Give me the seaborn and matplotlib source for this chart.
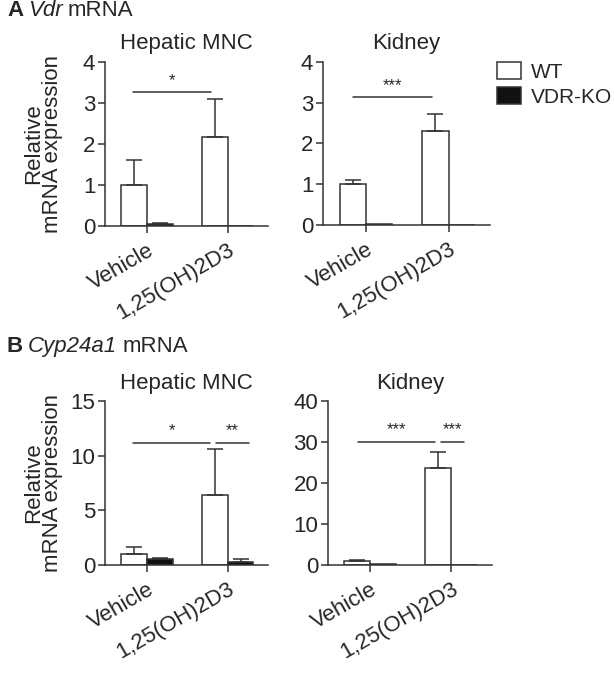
import matplotlib
matplotlib.use("Agg")
import matplotlib.pyplot as plt
import seaborn as sns
import pandas as pd
import numpy as np
from matplotlib.patches import Patch

# ---------------- data ----------------
conditions = ["Vehicle", "1,25(OH)2D3"]
genotypes = ["WT", "VDR-KO"]

a_hep_wt = [1.0, 2.18]
a_hep_ko = [0.05, 0.01]
a_hep_wt_err = [0.62, 0.92]
a_hep_ko_err = [0.03, 0.0]

a_kid_wt = [1.0, 2.30]
a_kid_ko = [0.02, 0.0]
a_kid_wt_err = [0.10, 0.43]
a_kid_ko_err = [0.0, 0.0]

b_hep_wt = [1.0, 6.4]
b_hep_ko = [0.55, 0.30]
b_hep_wt_err = [0.65, 4.2]
b_hep_ko_err = [0.10, 0.25]

b_kid_wt = [1.0, 23.7]
b_kid_ko = [0.20, 0.0]
b_kid_wt_err = [0.20, 3.9]
b_kid_ko_err = [0.0, 0.0]

a_yticks = [0, 1, 2, 3, 4]
b_hep_yticks = [0, 5, 10, 15]
b_kid_yticks = [0, 10, 20, 30, 40]

# significance annotations: (x0, x1, y, label)
a_hep_sig = [(-0.17, 0.79, 3.27, "*")]
a_kid_sig = [(-0.16, 0.80, 3.14, "***")]
b_hep_sig = [(-0.17, 0.78, 11.2, "*"), (0.86, 1.26, 11.2, "**")]
b_kid_sig = [(-0.15, 0.80, 30.1, "***"), (0.87, 1.16, 30.1, "***")]

# ---------------- style ----------------
sns.set_theme(style="ticks")
plt.rcParams["font.family"] = ["Liberation Sans", "DejaVu Sans"]

TXT = "#262626"
LINE = "#333333"
FS = 16
W, H = 614, 679
fig = plt.figure(figsize=(W / 100, H / 100), dpi=100)


def px_axes(left, right, top, bottom):
    return fig.add_axes([left / W, 1 - bottom / H, (right - left) / W, (bottom - top) / H])


def panel(ax, wt, ko, wt_err, ko_err, yticks, sigs, title, ylabel=True):
    df = pd.DataFrame({
        "condition": conditions * 2,
        "genotype": [genotypes[0]] * 2 + [genotypes[1]] * 2,
        "value": list(wt) + list(ko),
    })
    sns.barplot(data=df, x="condition", y="value", hue="genotype",
                order=conditions, hue_order=genotypes,
                palette={"WT": "white", "VDR-KO": "#111111"},
                width=0.64, errorbar=None, edgecolor=LINE, linewidth=1.1,
                legend=False, ax=ax)
    errs = list(wt_err) + list(ko_err)
    vals = list(wt) + list(ko)
    for patch, v, e in zip(ax.patches, vals, errs):
        if e > 0:
            cx = patch.get_x() + patch.get_width() / 2
            ax.errorbar(cx, v, yerr=[[0], [e]], fmt="none", ecolor=LINE,
                        elinewidth=1.1, capsize=6, capthick=1.1)
    ax.set_xlim(-0.52, 1.5)
    ax.set_ylim(0, yticks[-1])
    ax.set_yticks(yticks)
    ax.set_xticks([0, 1])
    ax.set_xticklabels(conditions, rotation=30, ha="right",
                       rotation_mode="anchor", fontsize=FS, color=TXT)
    ax.tick_params(axis="y", labelsize=FS, labelcolor=TXT, length=5,
                   width=1.1, color=LINE, pad=2)
    ax.tick_params(axis="x", length=5, width=1.1, color=LINE, pad=5)
    sns.despine(ax=ax)
    for s in ["left", "bottom"]:
        ax.spines[s].set_color(LINE)
        ax.spines[s].set_linewidth(1.1)
    ax.set_xlabel("")
    if ylabel:
        ax.set_ylabel("Relative\nmRNA expression", fontsize=FS, color=TXT,
                      linespacing=0.92)
        ax.yaxis.set_label_coords(-0.255, 0.5)
    else:
        ax.set_ylabel("")
    ax.set_title(title, fontsize=FS, color=TXT, pad=9)
    ymax = yticks[-1]
    for x0, x1, y, lab in sigs:
        ax.plot([x0, x1], [y, y], color=LINE, lw=1.1, clip_on=False)
        ax.text((x0 + x1) / 2, y + 0.025 * ymax, lab, ha="center", va="bottom",
                fontsize=12, color=TXT)


ax1 = px_axes(105, 268, 62, 226)
panel(ax1, a_hep_wt, a_hep_ko, a_hep_wt_err, a_hep_ko_err, a_yticks, a_hep_sig, "Hepatic MNC")
ax2 = px_axes(323, 490, 62, 225)
panel(ax2, a_kid_wt, a_kid_ko, a_kid_wt_err, a_kid_ko_err, a_yticks, a_kid_sig, "Kidney", ylabel=False)
ax3 = px_axes(105, 268, 401, 565)
panel(ax3, b_hep_wt, b_hep_ko, b_hep_wt_err, b_hep_ko_err, b_hep_yticks, b_hep_sig, "Hepatic MNC")
ax4 = px_axes(328, 492, 401, 565)
panel(ax4, b_kid_wt, b_kid_ko, b_kid_wt_err, b_kid_ko_err, b_kid_yticks, b_kid_sig, "Kidney", ylabel=False)

# legend
handles = [Patch(facecolor="white", edgecolor=LINE, linewidth=1.1, label="WT"),
           Patch(facecolor="#111111", edgecolor=LINE, linewidth=1.1, label="VDR-KO")]
fig.legend(handles=handles, loc="upper left", bbox_to_anchor=(495 / W, 1 - 60 / H),
           frameon=False, fontsize=15, handlelength=1.15, handleheight=0.9,
           handletextpad=0.45, labelspacing=0.25, borderaxespad=0, borderpad=0.1,
           labelcolor=TXT)

# panel labels (mixed bold / italic / regular)
renderer = fig.canvas.get_renderer()


def mixed_label(x_px, base_px, parts):
    x = x_px / W
    for txt, kw in parts:
        t = fig.text(x, 1 - base_px / H, txt, fontsize=FS, color=TXT,
                     va="baseline", ha="left", **kw)
        bb = t.get_window_extent(renderer=renderer)
        x = bb.x1 / W + 5 / W


mixed_label(7, 16, [("A", {"fontweight": "bold"}), ("Vdr", {"fontstyle": "italic"}),
                    ("mRNA", {})])
mixed_label(7, 352, [("B", {"fontweight": "bold"}), ("Cyp24a1", {"fontstyle": "italic"}),
                     ("mRNA", {})])

fig.savefig("out.png", dpi=100)
